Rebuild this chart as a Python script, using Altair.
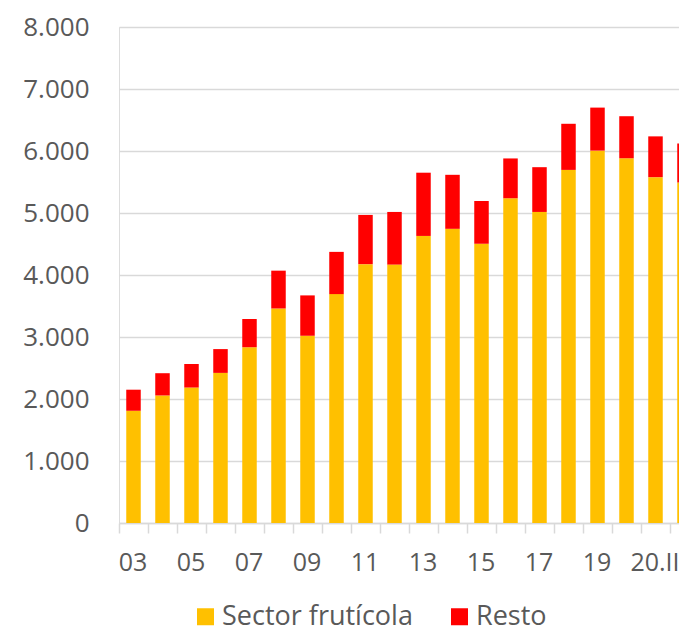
import altair as alt
import pandas as pd

categories = ["03", "04", "05", "06", "07", "08", "09", "10", "11", "12",
              "13", "14", "15", "16", "17", "18", "19", "20.I", "20.II", "21.I"]
fruit = [1810, 2057, 2185, 2421, 2835, 3460, 3020, 3692, 4175, 4168,
         4630, 4745, 4504, 5238, 5017, 5695, 6006, 5883, 5578, 5493]
total = [2150, 2416, 2565, 2805, 3290, 4070, 3671, 4373, 4969, 5017,
         5650, 5616, 5194, 5880, 5739, 6439, 6700, 6561, 6236, 6119]
resto = [t - f for t, f in zip(total, fruit)]
series = ["Sector frutícola", "Resto"]
colors = ["#FFC000", "#FF0000"]
y_ticks = [0, 1000, 2000, 3000, 4000, 5000, 6000, 7000, 8000]
shown_labels = categories[::2]

rows = []
for c, f, r in zip(categories, fruit, resto):
    rows.append({"cat": c, "serie": series[0], "value": f, "ord": 0})
    rows.append({"cat": c, "serie": series[1], "value": r, "ord": 1})
df = pd.DataFrame(rows)

label_list = "[" + ",".join("'" + s + "'" for s in shown_labels) + "]"
grey = "#D9D9D9"
text_col = "#595959"
FONT = "Open Sans"

chart = alt.Chart(df).mark_bar().encode(
    x=alt.X("cat:N", sort=categories, title=None,
            scale=alt.Scale(paddingInner=0.5, paddingOuter=0.25, range=[0, 580]),
            axis=alt.Axis(labelAngle=0, labelOverlap=False, labelFlush=False,
                          labelExpr=f"indexof({label_list}, datum.value) >= 0 ? datum.label : ''",
                          tickOffset=-14.5, labelOffset=13.5, tickSize=10,
                          tickColor=grey, tickWidth=1.5, domainColor=grey, domainWidth=1.5,
                          labelPadding=17, labelFontSize=25, labelColor=text_col, labelFont=FONT)),
    y=alt.Y("value:Q", stack="zero", title=None,
            scale=alt.Scale(domain=[0, 8000], nice=False),
            axis=alt.Axis(values=y_ticks, domain=False, ticks=False, grid=True,
                          gridColor=grey, gridWidth=1.5,
                          labelExpr="replace(format(datum.value, ','), ',', '.')",
                          labelPadding=30, labelFontSize=26, labelColor=text_col, labelFont=FONT)),
    color=alt.Color("serie:N", scale=alt.Scale(domain=series, range=colors),
                    legend=alt.Legend(title=None, orient="none", direction="horizontal",
                                      legendX=73, legendY=576, symbolType="square",
                                      symbolSize=289, symbolStrokeWidth=0, labelFontSize=27,
                                      labelColor=text_col, labelFont=FONT, labelOffset=3,
                                      columnPadding=33, labelLimit=400)),
    order=alt.Order("ord:Q", sort="ascending"),
).properties(
    width=560, height=496,
    autosize=alt.AutoSizeParams(type="none"),
    padding={"left": 111, "top": 19, "right": 0, "bottom": 109},
).configure_view(stroke=None).configure(font=FONT)

chart.save("out.html", embed_options={"renderer": "svg", "actions": False})
